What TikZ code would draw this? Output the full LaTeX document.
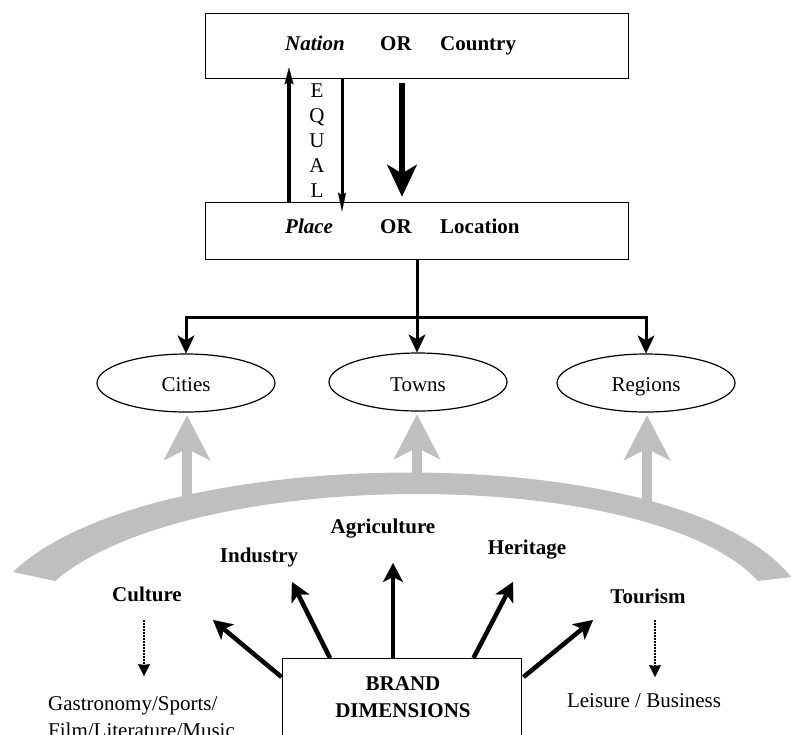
\documentclass[tikz,border=0pt]{standalone}
\usepackage{fontspec}
\setmainfont{Liberation Serif}
\usetikzlibrary{arrows.meta,shapes.geometric,calc}
\definecolor{bandgray}{RGB}{191,191,191}
\begin{document}
\begin{tikzpicture}[x=1pt,y=-1pt,
  every node/.style={font=\fontsize{21}{25}\selectfont, inner sep=0pt},
  boxnode/.style={draw, line width=1pt, minimum width=423pt},
  oval/.style={draw, ellipse, line width=1.2pt, minimum width=178pt, minimum height=58pt},
  bl/.style={font=\fontsize{21}{25}\selectfont\bfseries},
  treearrow/.style={line width=3pt, -{Stealth[length=18pt,width=17pt,inset=5pt,line width=0.1pt]}},
  dimarrow/.style={line width=4.5pt, -{Stealth[length=19pt,width=20pt,inset=5pt,line width=0.1pt]}},
  greyarrow/.style={bandgray, line width=10pt, -{Stealth[length=45pt,width=47pt,inset=12pt,line width=0.1pt]}},
  dotarrow/.style={line width=1.5pt, dash pattern=on 1.5pt off 1.5pt, -{Stealth[length=12pt,width=12pt,inset=1pt,line width=0.1pt]}}
]
\useasboundingbox (0,0) rectangle (791,734);
\clip (0,0) rectangle (791,734);

% top boxes
\node[boxnode, minimum height=65pt] (nation) at (416.5,45.5) {};
\node[boxnode, minimum height=57pt] (place) at (416.5,230.5) {};

\node[anchor=base west, bl] (nationT) at (285,50) {\itshape Nation};
\node[anchor=base west, bl] (orA) at (380,50) {OR};
\node[anchor=base west, bl] (country) at (440,50) {Country};
\node[anchor=base west, bl] (placeT) at (285,233) {\itshape Place};
\node[anchor=base west, bl] (orB) at (380,233) {OR};
\node[anchor=base west, bl] (location) at (440,233) {Location};

% EQUAL arrows
\coordinate (upx) at (289,0);
\coordinate (dnx) at (342,0);
\coordinate (bigx) at (402,0);
\draw[line width=3.5pt, -{Stealth[length=17pt,width=9pt,inset=3pt,line width=0.1pt]}]
  (place.north -| upx) -- ($(nation.south -| upx)+(0,-11)$);
\draw[line width=3pt, -{Stealth[length=19pt,width=8pt,inset=3pt,line width=0.1pt]}]
  (nation.south -| dnx) -- ($(place.north -| dnx)+(0,10)$);
\draw[line width=6.5pt, -{Stealth[length=32pt,width=30pt,inset=9pt,line width=0.1pt]}]
  ($(nation.south -| bigx)+(0,4)$) -- ($(place.north -| bigx)+(0,-5)$);
\node[align=center, font=\fontsize{21}{25}\selectfont] (equal) at (317,141) {E\\Q\\U\\A\\L};

% ellipses
\node[oval] (cities) at (186,383) {};
\node[oval] (towns) at (418,382) {};
\node[oval] (regions) at (646,383) {};
\node[anchor=base] (citiesT) at (186,391) {Cities};
\node[anchor=base] (townsT) at (418,391) {Towns};
\node[anchor=base] (regionsT) at (646,391) {Regions};

% tree
\coordinate (hub) at (417,317);
\draw[line width=3pt] (place.south -| hub) -- (hub);
\draw[treearrow] (hub) -- (hub |- towns.north);
\draw[treearrow] (hub) -| (cities.north);
\draw[treearrow] (hub) -| (regions.north);

% grey band
\fill[bandgray] (13,572) .. controls (150,440) and (680,437) .. (791,577)
  -- (758,581) .. controls (651,465) and (190,465) .. (55,581) -- cycle;

% grey arrows
\coordinate (gc) at (187,505);
\coordinate (gt) at (417,485);
\coordinate (gr) at (647,502);
\draw[greyarrow, shorten >=3pt] (gc) -- (gc |- cities.south);
\draw[greyarrow, shorten >=3pt] (gt) -- (gt |- towns.south);
\draw[greyarrow, shorten >=3pt] (gr) -- (gr |- regions.south);

% dimension labels
\node[anchor=base, bl] (agri) at (383,533) {Agriculture};
\node[anchor=base, bl] (industry) at (259,562) {Industry};
\node[anchor=base, bl] (heritage) at (527,554) {Heritage};
\node[anchor=base, bl] (culture) at (147,601) {Culture};
\node[anchor=base, bl] (tourism) at (648,603) {Tourism};

\node[anchor=base west] (gastro1) at (48,710) {Gastronomy/Sports/};
\node[anchor=base west] (gastro2) at (48,737) {Film/Literature/Music};
\node[anchor=base] (leisure) at (644,707) {Leisure / Business};

% dotted arrows
\coordinate (dc1) at (144,620);
\coordinate (dc2) at (144,676);
\coordinate (dt1) at (655,620);
\coordinate (dt2) at (655,677);
\draw[dotarrow] (dc1) -- (dc2);
\draw[dotarrow] (dt1) -- (dt2);

% brand box
\node[draw, line width=1pt, minimum width=239pt, minimum height=110pt, anchor=north] (brand) at (401.5,658) {};
\node[anchor=base, bl] (brand1) at (403,690) {BRAND};
\node[anchor=base, bl] (brand2) at (403,717) {DIMENSIONS};

% dimension arrows
\coordinate (tc) at (213,620);
\coordinate (ti) at (292,582);
\coordinate (ta) at (393,563);
\coordinate (th) at (513,582);
\coordinate (tt) at (593,620);
\draw[dimarrow] ($(brand.north west)+(0,19)$) -- (tc);
\draw[dimarrow] ($(brand.north west)+(48.5,0)$) -- (ti);
\draw[dimarrow] (brand.north -| ta) -- (ta);
\draw[dimarrow] ($(brand.north west)+(192,0)$) -- (th);
\draw[dimarrow] ($(brand.north east)+(2,19)$) -- (tt);
\end{tikzpicture}
\end{document}
